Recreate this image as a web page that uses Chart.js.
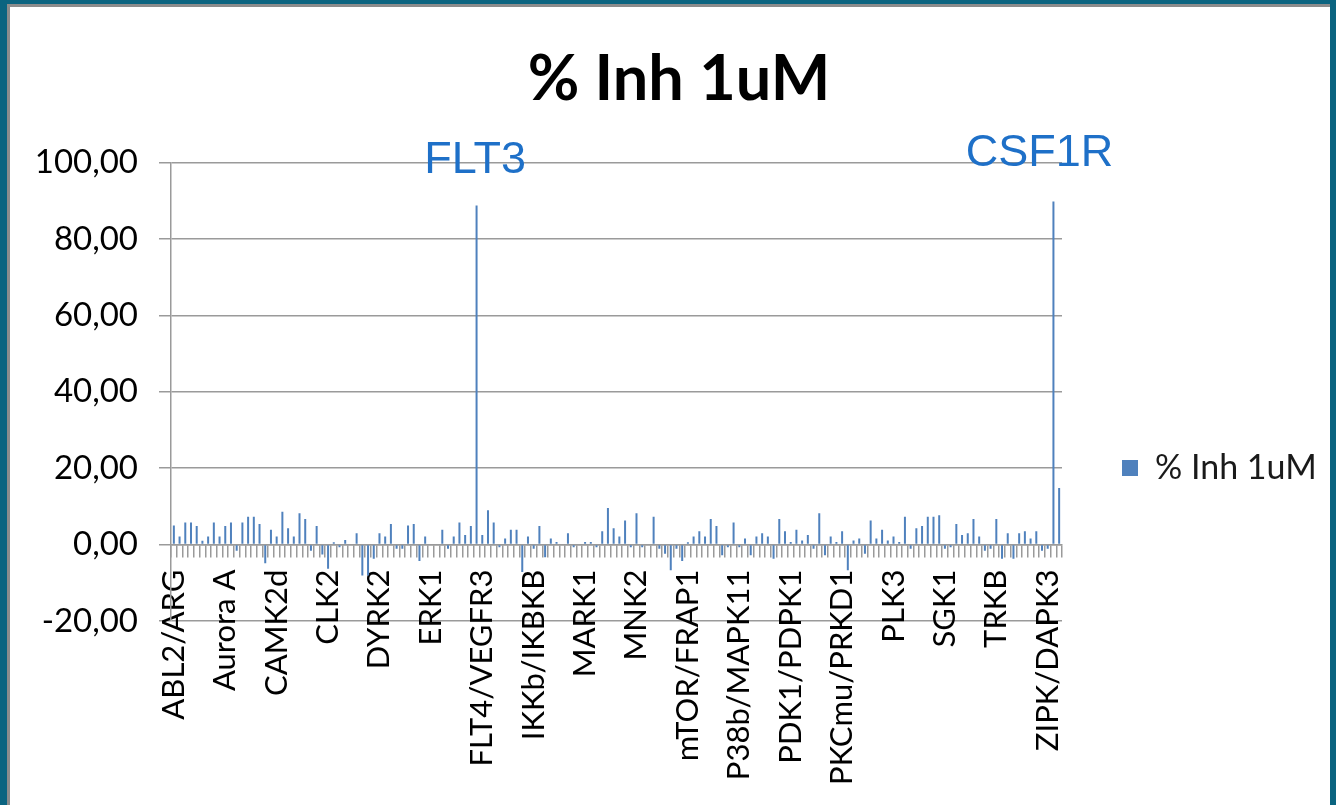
<!DOCTYPE html>
<html>
<head>
<meta charset="utf-8">
<script src="https://cdn.jsdelivr.net/npm/chart.js@4.4.1/dist/chart.umd.min.js"></script>
<style>
  html, body { margin: 0; padding: 0; }
  body { width: 1336px; height: 805px; overflow: hidden; background: #0b6480; position: relative; }
  #frame { position: absolute; left: 7px; top: 4px; width: 1323px; height: 801px; background: #ffffff;
           border-left: 3px solid #8c8c8c; border-top: 3px solid #8c8c8c; box-sizing: border-box; }
  #wrap { position: absolute; left: 0; top: 0; width: 1336px; height: 805px; }
</style>
</head>
<body>
<div id="frame"></div>
<div id="wrap"><canvas id="c" width="1336" height="805"></canvas></div>
<script>
// ---- data ----
const seriesName = '% Inh 1uM';
const chartTitle = '% Inh 1uM';
// labelled categories (every 9th kinase shown on the axis)
const tickLabels = ['ABL2/ARG', 'Aurora A', 'CAMK2d', 'CLK2', 'DYRK2', 'ERK1', 'FLT4/VEGFR3', 'IKKb/IKBKB',
  'MARK1', 'MNK2', 'mTOR/FRAP1', 'P38b/MAPK11', 'PDK1/PDPK1', 'PKCmu/PRKD1', 'PLK3', 'SGK1', 'TRKB', 'ZIPK/DAPK3'];
const labelEvery = 9;
// % inhibition at 1 uM, one value per kinase
const inhValues = [
  5.0, 2.1, 5.8, 5.8, 4.9, 1.0, 2.1, 5.8, 2.1, 4.9,
  5.8, -1.6, 5.8, 7.3, 7.3, 5.4, -4.9, 3.9, 2.1, 8.6,
  4.3, 2.1, 8.2, 6.7, -1.6, 4.9, -2.6, -6.3, 0.6, -0.7,
  1.2, 0.0, 3.0, -8.1, -8.1, -3.7, 3.0, 2.1, 5.4, -1.1,
  -1.1, 5.0, 5.4, -4.3, 2.1, 0.0, 0.0, 3.9, -1.1, 2.1,
  5.8, 2.5, 4.9, 88.8, 2.5, 9.0, 5.8, -0.7, 1.6, 3.9,
  3.9, -7.2, 2.1, -1.1, 4.9, -3.3, 1.6, 0.7, 0.0, 3.0,
  -0.7, 0.0, 0.7, 0.7, -0.7, 3.5, 9.6, 4.3, 2.1, 6.3,
  -0.7, 8.2, -0.7, 0.0, 7.3, -1.1, -2.4, -6.7, -1.1, -4.3,
  0.6, 2.1, 3.5, 2.1, 6.7, 4.9, -2.8, -0.7, 5.8, -0.7,
  1.6, -2.8, 2.1, 3.0, 2.1, -3.7, 6.7, 3.5, 0.7, 3.9,
  1.1, 2.5, -1.1, 8.2, -2.8, 2.1, 0.7, 3.5, -6.7, 1.1,
  1.6, -2.4, 6.3, 1.6, 3.9, 1.1, 2.1, 0.7, 7.3, -1.1,
  4.3, 4.9, 7.3, 7.3, 7.7, -1.1, -0.7, 5.4, 2.5, 3.0,
  6.7, 2.1, -1.6, -1.1, 6.7, -3.7, 3.0, -3.7, 3.0, 3.5,
  1.6, 3.5, -1.6, -1.1, 89.8, 14.8
];
// highlighted hits
const hitNames = ['FLT3', 'CSF1R'];
const hitIndex = [53, 154];
// y axis
const yMin = -20, yMax = 100, yStep = 20;

// categories: named where the name is known
const categories = inhValues.map((v, i) => {
  if (i % labelEvery === 0 && tickLabels[i / labelEvery]) return tickLabels[i / labelEvery];
  const h = hitIndex.indexOf(i);
  return h >= 0 ? hitNames[h] : ('#' + (i + 1));
});

// ---- layout helpers ----
const FONT = 'Lato, "Open Sans", sans-serif';
const legendFontSize = 34, legendBox = 16, legendPad = 60;
const mctx = document.createElement('canvas').getContext('2d');
mctx.font = legendFontSize + 'px ' + FONT;
const legendTextW = mctx.measureText(seriesName).width;
const legendW = legendPad + legendBox + legendFontSize / 2 + legendTextW + 10;
const plotRight = 1062, plotLeft = 171, plotBottom = 621;
const padR = Math.max(0, 1336 - plotRight - legendW);
const padL = 22 + padR;

const hitLabelsPlugin = {
  id: 'hitLabels',
  afterDatasetsDraw(chart) {
    const {ctx, scales: {x, y}} = chart;
    ctx.save();
    ctx.font = '45px "Liberation Sans", Arial, sans-serif';
    ctx.fillStyle = '#1e70c8';
    ctx.textAlign = 'center';
    ctx.textBaseline = 'alphabetic';
    const dx = [-1.5, -14];
    const dy = [97.4, 99.2];
    hitNames.forEach((name, k) => {
      ctx.fillText(name, x.getPixelForValue(hitIndex[k]) + dx[k], y.getPixelForValue(dy[k]));
    });
    ctx.restore();
  }
};

new Chart(document.getElementById('c'), {
  type: 'bar',
  data: {
    labels: categories,
    datasets: [{
      label: seriesName,
      data: inhValues,
      backgroundColor: '#4f81bd',
      borderWidth: 0,
      barPercentage: 0.35,
      categoryPercentage: 1.0
    }]
  },
  options: {
    responsive: false,
    animation: false,
    devicePixelRatio: 1,
    layout: { padding: { left: padL, right: padR, top: 0, bottom: 805 - plotBottom } },
    plugins: {
      title: {
        display: true,
        text: chartTitle,
        color: '#000',
        font: { family: FONT, size: 63, weight: 'bold' },
        padding: { top: 42, bottom: 45 }
      },
      legend: {
        display: true,
        position: 'right',
        align: 'center',
        labels: {
          color: '#1a1a1a',
          font: { family: FONT, size: legendFontSize },
          boxWidth: legendBox,
          boxHeight: legendBox,
          padding: legendPad
        },
        title: { display: true, text: ' ', font: { size: 1 }, padding: { top: 314, bottom: 0 } }
      },
      tooltip: { enabled: false }
    },
    scales: {
      x: {
        type: 'category',
        position: { y: 0 },
        grid: { display: true, drawOnChartArea: false, drawTicks: true, tickLength: 12,
                color: '#9a9a9a', lineWidth: 1.5, offset: true },
        border: { display: true, color: '#9a9a9a', width: 1.5 },
        ticks: {
          autoSkip: false,
          minRotation: 90,
          maxRotation: 90,
          padding: 13,
          color: '#000',
          font: { family: FONT, size: 31 },
          callback(v, i) { return i % labelEvery === 0 ? (tickLabels[i / labelEvery] || '') : ''; }
        }
      },
      y: {
        min: yMin,
        max: yMax,
        afterFit(s) { s.width = plotLeft - padL; },
        grid: { color: '#9a9a9a', lineWidth: 1.5, tickLength: 12, drawTicks: true },
        border: { display: true, color: '#9a9a9a', width: 1.5 },
        ticks: {
          stepSize: yStep,
          padding: 21,
          color: '#000',
          font: { family: FONT, size: 33 },
          callback(v) { return Number(v).toFixed(2).replace('.', ','); }
        }
      }
    }
  },
  plugins: [hitLabelsPlugin]
});
</script>
</body>
</html>
